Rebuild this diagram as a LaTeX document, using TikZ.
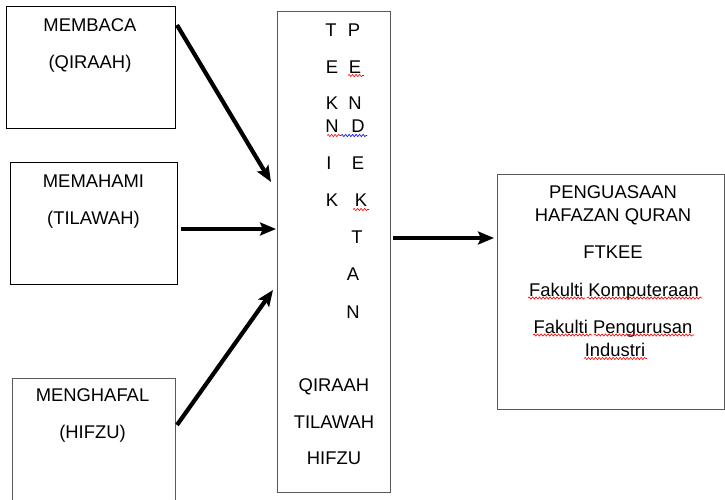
\documentclass[tikz,border=0pt]{standalone}
\usepackage{fontspec}
\setmainfont{Liberation Sans}
\usetikzlibrary{arrows.meta,calc,decorations.pathmorphing}
\begin{document}
\begin{tikzpicture}[x=1pt,y=-1pt,
  bbox/.style={draw=black,line width=1pt,inner sep=0pt,outer sep=0pt},
  gbox/.style={draw=black!65,line width=0.9pt,inner sep=0pt,outer sep=0pt},
  txt/.style={font=\fontsize{18.4}{22}\selectfont,anchor=base,inner sep=0pt},
  arr/.style={line width=4.2pt,-{Stealth[length=16pt,width=13pt,inset=3pt]}},
  squig/.style={draw=#1,line width=0.6pt,decorate,decoration={snake,segment length=3.5pt,amplitude=1.1pt}}]
\useasboundingbox (0,0) rectangle (725,499);
% boxes
\node[bbox,minimum width=169pt,minimum height=122pt] (b1) at (90.5,67) {};
\node[bbox,minimum width=167pt,minimum height=122pt] (b2) at (93.5,223) {};
\node[gbox,minimum width=163pt,minimum height=124pt] (b3) at (93.5,440) {};
\node[gbox,minimum width=113pt,minimum height=481pt] (c) at (333.5,251.5) {};
\node[gbox,minimum width=227pt,minimum height=235pt] (r) at (610.5,291.5) {};
% left texts
\node[txt] (t1a) at (90,31.5) {MEMBACA};
\node[txt] (t1b) at (90,68.5) {(QIRAAH)};
\node[txt] (t2a) at (93.5,187.5) {MEMAHAMI};
\node[txt] (t2b) at (93.5,224.5) {(TILAWAH)};
\node[txt] (t3a) at (92.5,401.5) {MENGHAFAL};
\node[txt] (t3b) at (92.5,438.5) {(HIFZU)};
% center letters
\node[txt] (l1) at (331,36.5) {T};
\node[txt] (l2) at (332,73.5) {E};
\node[txt] (l3) at (332,109.5) {K};
\node[txt] (l4) at (332,132.5) {N};
\node[txt] (l5) at (329,169.5) {I};
\node[txt] (l6) at (332,206.5) {K};
\node[txt] (r1) at (354,36.5) {P};
\node[txt] (r2) at (355,73.5) {E};
\node[txt] (r3) at (355,109.5) {N};
\node[txt] (r4) at (358,132.5) {D};
\node[txt] (r5) at (358,169.5) {E};
\node[txt] (r6) at (361,206.5) {K};
\node[txt] (r7) at (357,243.5) {T};
\node[txt] (r8) at (353,280.5) {A};
\node[txt] (r9) at (353,318.5) {N};
\node[txt] (c1) at (334,391.5) {QIRAAH};
\node[txt] (c2) at (334,428.5) {TILAWAH};
\node[txt] (c3) at (334,464.5) {HIFZU};
% right texts
\node[txt] (p1) at (613,198.5) {PENGUASAAN};
\node[txt] (p2) at (613,221.5) {HAFAZAN QURAN};
\node[txt] (p3) at (613,258.5) {FTKEE};
\node[txt] (p4) at (614,296.5) {Fakulti Komputeraan};
\node[txt] (p5) at (613,333) {Fakulti Pengurusan};
\node[txt] (p6) at (615,356) {Industri};
% squiggles
\draw[squig=red] (348,75.5) -- (364,75.5);
\draw[squig=red] (327,135.5) -- (341,135.5);
\draw[squig=blue] (341,135.5) -- (367,135.5);
\draw[squig=red] (353,209.5) -- (369,209.5);
\draw[squig=red] (528,298) -- (585,298);
\draw[squig=red] (587,298) -- (702,298);
\draw[squig=red] (533,335) -- (592,335);
\draw[squig=red] (594,335) -- (694,335);
\draw[squig=red] (584,358.5) -- (647,358.5);
% arrows
\draw[arr] ($(b1.east)+(2,-42)$) -- ($(c.west)+(-6,-69.5)$);
\draw[arr] ($(b2.east)+(4,6)$) -- ($(c.west)+(-1,-22.5)$);
\draw[arr] ($(b3.east)+(2,-15)$) -- ($(c.west)+(-4,38.5)$);
\draw[arr] ($(c.east)+(3,-13.5)$) -- ($(r.west)+(-3,-53.5)$);
\end{tikzpicture}
\end{document}
